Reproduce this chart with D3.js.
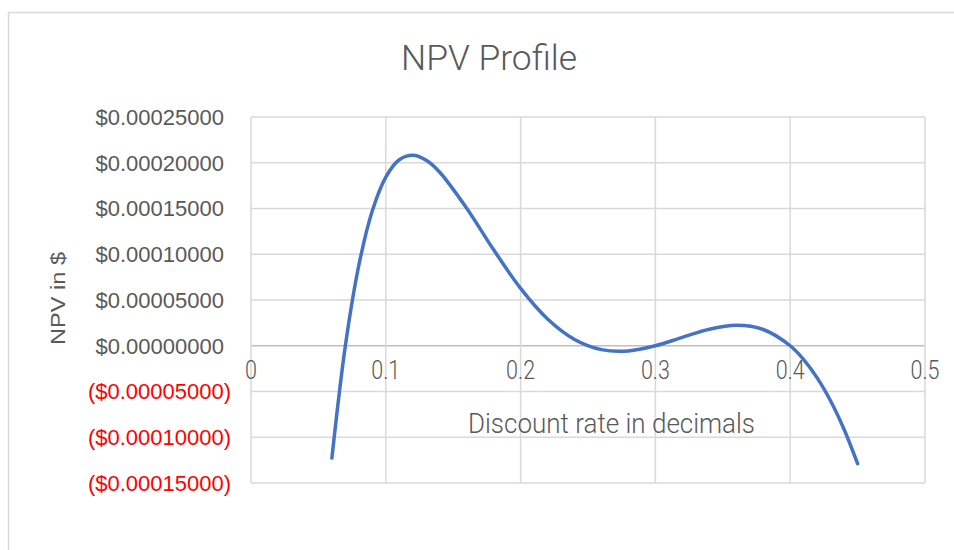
<!DOCTYPE html>
<html>
<head>
<meta charset="utf-8">
<script src="https://cdn.jsdelivr.net/npm/d3@7"></script>
<style>
  body { margin: 0; background: #fff; }
  #viz text { fill: #595959; }
</style>
</head>
<body>
<div id="viz"></div>
<script>
// discount rates and NPV
var rates = [0.06, 0.07, 0.08, 0.09, 0.10, 0.11, 0.12, 0.13, 0.14, 0.16, 0.18, 0.20,
             0.22, 0.24, 0.26, 0.28, 0.30, 0.32, 0.34, 0.36, 0.38, 0.40, 0.41, 0.42,
             0.43, 0.44, 0.45];
var npv = [-0.0001228, 0, 0.00008797, 0.00014758, 0.00018441, 0.00020326, 0.00020819,
           0.00020269, 0.00018966, 0.00015031, 0.00010485, 0.00006269, 0.00002925,
           0.0000069, -0.00000422, -0.00000563, 0, 0.00000922, 0.00001809, 0.00002238,
           0.00001778, 0, -0.00001514, -0.00003512, -0.00006044, -0.00009156, -0.00012894];
var xTicks = [0, 0.1, 0.2, 0.3, 0.4, 0.5];
var yTicks = [0.00025, 0.0002, 0.00015, 0.0001, 0.00005, 0, -0.00005, -0.0001, -0.00015];

var width = 954, height = 550,
    plotLeft = 251, plotRight = 925, plotTop = 117, plotBottom = 483;

var svg = d3.select("#viz").append("svg")
  .attr("width", width)
  .attr("height", height);

// chart area border
svg.append("rect")
  .attr("x", 8.5).attr("y", 12.5)
  .attr("width", 960).attr("height", 560)
  .attr("fill", "none")
  .attr("stroke", "#d9d9d9")
  .attr("stroke-width", 1.5);

var x = d3.scaleLinear().domain([0, 0.5]).range([plotLeft, plotRight]);
var y = d3.scaleLinear().domain([-0.00015, 0.00025]).range([plotBottom, plotTop]);

// gridlines
svg.selectAll(".hgrid")
  .data(yTicks)
  .join("line")
  .attr("x1", plotLeft).attr("x2", plotRight)
  .attr("y1", d => y(d)).attr("y2", d => y(d))
  .attr("stroke", d => d === 0 ? "#bfbfbf" : "#d9d9d9")
  .attr("stroke-width", 1.5);

svg.selectAll(".vgrid")
  .data(xTicks)
  .join("line")
  .attr("x1", d => x(d)).attr("x2", d => x(d))
  .attr("y1", plotTop).attr("y2", plotBottom)
  .attr("stroke", "#d9d9d9")
  .attr("stroke-width", 1.5);

// y tick labels, negatives in red with brackets
var fmt = d3.format(".8f");
svg.selectAll(".ylab")
  .data(yTicks)
  .join("text")
  .attr("x", d => d < 0 ? 231 : 224)
  .attr("y", d => y(d))
  .attr("dy", "0.36em")
  .attr("text-anchor", "end")
  .style("font-family", "'Liberation Sans', Arial, sans-serif")
  .style("font-size", "22px")
  .style("fill", d => d < 0 ? "#ff0000" : "#595959")
  .text(d => d < 0 ? "($" + fmt(-d) + ")" : "$" + fmt(d));

// x tick labels sit right under the zero line
svg.selectAll(".xlab")
  .data(xTicks)
  .join("text")
  .attr("x", d => x(d))
  .attr("y", 379)
  .attr("text-anchor", "middle")
  .style("font-family", "Roboto, 'Noto Sans', sans-serif")
  .style("font-weight", 300)
  .style("font-size", "25px")
  .text(d => d3.format("")(d))
  .each(function() {
    var w = this.getComputedTextLength();
    d3.select(this).attr("textLength", w * 0.86).attr("lengthAdjust", "spacingAndGlyphs");
  });

// npv line
var line = d3.line()
  .x((d, i) => x(rates[i]))
  .y(d => y(d))
  .curve(d3.curveCatmullRom.alpha(0.5));

svg.append("path")
  .datum(npv)
  .attr("d", line)
  .attr("fill", "none")
  .attr("stroke", "#4472c4")
  .attr("stroke-width", 3.5)
  .attr("stroke-linecap", "round")
  .attr("stroke-linejoin", "round");

// titles
svg.append("text")
  .attr("x", 489).attr("y", 70)
  .attr("text-anchor", "middle")
  .attr("textLength", 176).attr("lengthAdjust", "spacingAndGlyphs")
  .style("font-family", "Roboto, 'Noto Sans', sans-serif")
  .style("font-weight", 300)
  .style("font-size", "35px")
  .text("NPV Profile");

svg.append("text")
  .attr("x", 611.5).attr("y", 433)
  .attr("text-anchor", "middle")
  .attr("textLength", 287).attr("lengthAdjust", "spacingAndGlyphs")
  .style("font-family", "Roboto, 'Noto Sans', sans-serif")
  .style("font-weight", 300)
  .style("font-size", "28px")
  .text("Discount rate in decimals");

svg.append("text")
  .attr("transform", "translate(65,298.5) rotate(-90)")
  .attr("text-anchor", "middle")
  .attr("textLength", 93).attr("lengthAdjust", "spacingAndGlyphs")
  .style("font-family", "'Liberation Sans', Arial, sans-serif")
  .style("font-size", "20px")
  .text("NPV in $");
</script>
</body>
</html>
